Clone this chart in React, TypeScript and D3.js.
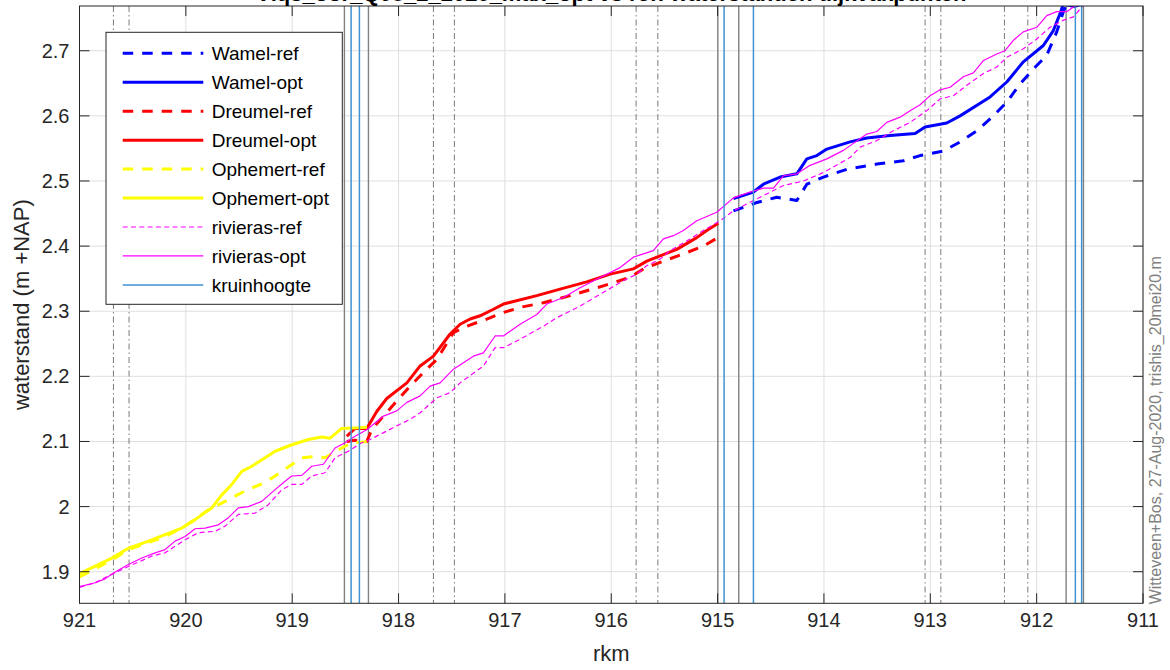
import React from "react";
import * as d3 from "d3";

// ---------- data (rkm, waterstand m +NAP) ----------
const xTicks = [921, 920, 919, 918, 917, 916, 915, 914, 913, 912, 911];
const yTicks = [1.9, 2.0, 2.1, 2.2, 2.3, 2.4, 2.5, 2.6, 2.7];

const wamelRef: [number, number][] = [
  [914.851, 2.454], [914.631, 2.467], [914.443, 2.475], [914.255, 2.470], [914.161, 2.495],
  [914.005, 2.506], [913.785, 2.518], [913.503, 2.526], [913.253, 2.531], [913.096, 2.539],
  [912.877, 2.546], [912.720, 2.560], [912.563, 2.577], [912.407, 2.600], [912.281, 2.621],
  [912.156, 2.649], [912.031, 2.672], [911.905, 2.693], [911.811, 2.729], [911.749, 2.760],
  [911.717, 2.772], [911.592, 2.775], [911.50, 2.79],
];
const wamelOpt: [number, number][] = [
  [914.851, 2.473], [914.663, 2.483], [914.569, 2.495], [914.412, 2.506], [914.255, 2.511],
  [914.161, 2.534], [914.067, 2.539], [913.973, 2.549], [913.754, 2.560], [913.597, 2.566],
  [913.378, 2.570], [913.143, 2.573], [913.049, 2.583], [912.845, 2.589], [912.720, 2.600],
  [912.438, 2.629], [912.281, 2.652], [912.125, 2.683], [911.937, 2.708], [911.843, 2.731],
  [911.780, 2.757], [911.749, 2.772], [911.65, 2.768], [911.56, 2.772], [911.50, 2.79],
];
const dreumelRef: [number, number][] = [
  [918.487, 2.100], [918.409, 2.102], [918.299, 2.100], [918.252, 2.118], [918.142, 2.139],
  [918.017, 2.162], [917.891, 2.185], [917.766, 2.206], [917.640, 2.226], [917.484, 2.267],
  [917.358, 2.277], [917.170, 2.288], [917.014, 2.298], [916.857, 2.306], [916.638, 2.313],
  [916.387, 2.324], [916.074, 2.339], [915.823, 2.352], [915.698, 2.365], [915.541, 2.375],
  [915.290, 2.390], [915.134, 2.400], [914.977, 2.415],
];
const dreumelOpt: [number, number][] = [
  [918.487, 2.108], [918.409, 2.120], [918.299, 2.120], [918.205, 2.146], [918.111, 2.166],
  [917.922, 2.190], [917.797, 2.216], [917.672, 2.231], [917.515, 2.265], [917.421, 2.280],
  [917.327, 2.288], [917.233, 2.293], [917.108, 2.303], [917.014, 2.311], [916.700, 2.324],
  [916.481, 2.334], [916.230, 2.345], [916.011, 2.357], [915.792, 2.365], [915.666, 2.377],
  [915.541, 2.385], [915.384, 2.395], [915.196, 2.413], [915.102, 2.424], [914.993, 2.435],
];
const ophemertRef: [number, number][] = [
  [921.0, 1.892], [920.696, 1.918], [920.540, 1.934], [920.195, 1.954], [920.007, 1.970],
  [919.788, 1.995], [919.631, 2.008], [919.443, 2.024], [919.255, 2.037], [919.098, 2.054],
  [918.910, 2.075], [918.785, 2.077], [918.691, 2.075], [918.534, 2.090], [918.440, 2.098],
  [918.346, 2.099], [918.299, 2.100],
];
const ophemertOpt: [number, number][] = [
  [921.0, 1.897], [920.696, 1.921], [920.540, 1.936], [920.352, 1.947], [920.195, 1.957],
  [920.038, 1.967], [919.913, 1.980], [919.756, 1.998], [919.662, 2.018], [919.568, 2.034],
  [919.474, 2.054], [919.380, 2.062], [919.255, 2.075], [919.161, 2.085], [919.004, 2.095],
  [918.848, 2.103], [918.722, 2.107], [918.644, 2.105], [918.534, 2.120], [918.378, 2.121],
  [918.296, 2.122],
];
const rivierasRef: [number, number][] = [
  [921.0, 1.876], [920.853, 1.883], [920.696, 1.896], [920.540, 1.908], [920.320, 1.924],
  [920.195, 1.929], [920.101, 1.939], [920.007, 1.949], [919.882, 1.960], [919.725, 1.962],
  [919.631, 1.970], [919.506, 1.988], [919.349, 1.990], [919.224, 2.003], [919.098, 2.026],
  [919.004, 2.034], [918.910, 2.034], [918.816, 2.047], [918.691, 2.052], [918.597, 2.075],
  [918.472, 2.085], [918.346, 2.098], [918.268, 2.103], [918.111, 2.116], [918.017, 2.124],
  [917.891, 2.134], [917.797, 2.144], [917.640, 2.167], [917.515, 2.175], [917.421, 2.190],
  [917.202, 2.216], [917.092, 2.244], [917.014, 2.244], [916.857, 2.257], [916.638, 2.277],
  [916.512, 2.290], [916.293, 2.308], [916.074, 2.329], [915.886, 2.347], [915.760, 2.357],
  [915.666, 2.370], [915.541, 2.380], [915.447, 2.393], [915.259, 2.411], [915.134, 2.424],
  [914.977, 2.439], [914.851, 2.454], [914.663, 2.470], [914.381, 2.493], [914.193, 2.500],
  [914.005, 2.513], [913.754, 2.536], [913.660, 2.552], [913.503, 2.562], [913.347, 2.577],
  [913.190, 2.590], [913.033, 2.608], [912.908, 2.626], [912.783, 2.631], [912.657, 2.647],
  [912.501, 2.665], [912.375, 2.675], [912.281, 2.690], [912.125, 2.703], [911.999, 2.718],
  [911.874, 2.736], [911.749, 2.747], [911.655, 2.752], [911.560, 2.770], [911.45, 2.78],
];
const rivierasOpt: [number, number][] = [
  [921.0, 1.877], [920.853, 1.883], [920.759, 1.889], [920.681, 1.898], [920.540, 1.911],
  [920.414, 1.921], [920.289, 1.929], [920.195, 1.934], [920.101, 1.947], [920.007, 1.954],
  [919.913, 1.966], [919.819, 1.967], [919.694, 1.972], [919.600, 1.983], [919.506, 1.998],
  [919.412, 2.000], [919.286, 2.008], [919.161, 2.026], [919.067, 2.039], [919.004, 2.047],
  [918.910, 2.048], [918.816, 2.062], [918.707, 2.065], [918.597, 2.090], [918.503, 2.098],
  [918.409, 2.108], [918.299, 2.118], [918.142, 2.139], [918.017, 2.147], [917.922, 2.160],
  [917.797, 2.170], [917.703, 2.185], [917.609, 2.190], [917.484, 2.211], [917.296, 2.231],
  [917.202, 2.236], [917.092, 2.262], [917.014, 2.262], [916.857, 2.280], [916.700, 2.295],
  [916.606, 2.311], [916.450, 2.321], [916.293, 2.336], [916.136, 2.349], [915.917, 2.367],
  [915.792, 2.383], [915.698, 2.388], [915.604, 2.393], [915.510, 2.411], [915.416, 2.416],
  [915.322, 2.424], [915.196, 2.439], [915.008, 2.452], [914.851, 2.474], [914.694, 2.483],
  [914.569, 2.489], [914.475, 2.489], [914.381, 2.508], [914.255, 2.511], [914.130, 2.524],
  [913.973, 2.534], [913.817, 2.547], [913.597, 2.572], [913.503, 2.576], [913.409, 2.590],
  [913.284, 2.598], [913.190, 2.608], [913.096, 2.617], [913.002, 2.631], [912.908, 2.640],
  [912.814, 2.644], [912.689, 2.660], [912.595, 2.666], [912.501, 2.685], [912.375, 2.695],
  [912.297, 2.700], [912.219, 2.716], [912.125, 2.729], [911.999, 2.736], [911.905, 2.754],
  [911.811, 2.760], [911.717, 2.760], [911.655, 2.767], [911.592, 2.772], [911.497, 2.78],
];
const kruinhoogte = [918.446, 918.368, 914.939, 914.663, 911.636, 911.577];
const vakgrensSolid = [918.509, 918.283, 914.998, 914.801, 911.723, 911.560];
const vakgrensDashDot = [920.681, 920.534, 917.672, 917.475, 915.766, 915.562, 913.049, 912.901, 912.303, 912.083];

const legendLabels = [
  "Wamel-ref", "Wamel-opt", "Dreumel-ref", "Dreumel-opt", "Ophemert-ref",
  "Ophemert-opt", "rivieras-ref", "rivieras-opt", "kruinhoogte",
];

const titleText = "Vlqs_oor_Q08_2_2020_max_opt vs ref: waterstanden dijkvakpunten";
const footnote = "Witteveen+Bos, 27-Aug-2020, trishis_20mei20.m";

// ---------- styles ----------
const THICK_DASH = "10.5,9";
const THIN_DASH = "5,3.3";
const seriesList = [
  { data: wamelRef, color: "#0000ff", width: 3, dash: THICK_DASH },
  { data: wamelOpt, color: "#0000ff", width: 3, dash: null },
  { data: dreumelRef, color: "#ff0000", width: 3, dash: THICK_DASH },
  { data: dreumelOpt, color: "#ff0000", width: 3, dash: null },
  { data: ophemertRef, color: "#ffff00", width: 3, dash: THICK_DASH },
  { data: ophemertOpt, color: "#ffff00", width: 3, dash: null },
  { data: rivierasRef, color: "#ff00ff", width: 1.2, dash: THIN_DASH },
  { data: rivierasOpt, color: "#ff00ff", width: 1.2, dash: null },
];
const KRUIN_COLOR = "#3f93d2";

export default function App() {
  const W = 1170, H = 670;
  const L = 79.5, R = 1143, T = 6, B = 603.3;
  const x = d3.scaleLinear().domain([921, 911]).range([L, R]);
  const y = d3.scaleLinear().domain([1.8515, 2.7687]).range([B, T]);
  const line = d3.line<[number, number]>().x((d) => x(d[0])).y((d) => y(d[1]));
  const axisColor = "#262626";
  const gridColor = "#dfdfdf";
  const font = "'Liberation Sans', Arial, Helvetica, sans-serif";
  const tickLen = 10;
  const fmt = (v: number) => String(+v.toFixed(1));

  const legX = 106, legY = 32.3, legW = 236.3, legH = 272;
  const rowY0 = 53.3, rowDY = 28.95;

  return (
    <div style={{ position: "fixed", left: 0, top: 0, width: W, height: H, background: "#fff" }}>
      <svg width={W} height={H} style={{ display: "block" }} fontFamily={font}>
        <defs>
          <clipPath id="plotclip">
            <rect x={L} y={T} width={R - L} height={B - T} />
          </clipPath>
        </defs>
        <rect x={0} y={0} width={W} height={H} fill="#fff" />
        <rect x={L} y={T} width={R - L} height={B - T} fill="#fff" />
        {/* grid */}
        {xTicks.map((t) => (
          <line key={"gx" + t} x1={x(t)} x2={x(t)} y1={T} y2={B} stroke={gridColor} strokeWidth={1} />
        ))}
        {yTicks.map((t) => (
          <line key={"gy" + t} x1={L} x2={R} y1={y(t)} y2={y(t)} stroke={gridColor} strokeWidth={1} />
        ))}
        <g clipPath="url(#plotclip)">
          {vakgrensDashDot.map((v, i) => (
            <line key={"dd" + i} x1={x(v)} x2={x(v)} y1={T} y2={B} stroke="#7a7a7a" strokeWidth={1}
              strokeDasharray="6,3,1.5,3" />
          ))}
          {vakgrensSolid.map((v, i) => (
            <line key={"vs" + i} x1={x(v)} x2={x(v)} y1={T} y2={B} stroke="#808080" strokeWidth={1.4} />
          ))}
          {seriesList.map((s, i) => (
            <path key={"s" + i} d={line(s.data) || ""} fill="none" stroke={s.color} strokeWidth={s.width}
              strokeDasharray={s.dash || undefined} strokeLinejoin="round" />
          ))}
          {kruinhoogte.map((v, i) => (
            <line key={"k" + i} x1={x(v)} x2={x(v)} y1={T} y2={B} stroke={KRUIN_COLOR} strokeWidth={1.5} />
          ))}
        </g>
        {/* axes box */}
        <rect x={L} y={T} width={R - L} height={B - T} fill="none" stroke={axisColor} strokeWidth={1} />
        {xTicks.map((t) => (
          <g key={"tx" + t}>
            <line x1={x(t)} x2={x(t)} y1={B} y2={B - tickLen} stroke={axisColor} strokeWidth={1} />
            <line x1={x(t)} x2={x(t)} y1={T} y2={T + tickLen} stroke={axisColor} strokeWidth={1} />
            <text x={x(t)} y={B + 24} textAnchor="middle" fontSize={20} fill={axisColor}>{t}</text>
          </g>
        ))}
        {yTicks.map((t) => (
          <g key={"ty" + t}>
            <line x1={L} x2={L + tickLen} y1={y(t)} y2={y(t)} stroke={axisColor} strokeWidth={1} />
            <line x1={R} x2={R - tickLen} y1={y(t)} y2={y(t)} stroke={axisColor} strokeWidth={1} />
            <text x={L - 10} y={y(t) + 7} textAnchor="end" fontSize={20} fill={axisColor}>{fmt(t)}</text>
          </g>
        ))}
        {/* labels */}
        <text x={(L + R) / 2} y={661} textAnchor="middle" fontSize={22} fill={axisColor}>rkm</text>
        <text transform={`translate(29,${(T + B) / 2}) rotate(-90)`} textAnchor="middle" fontSize={22} fill={axisColor}>
          waterstand (m +NAP)
        </text>
        <text x={(L + R) / 2} y={0.5} textAnchor="middle" fontSize={22} fontWeight="bold" fill="#000">{titleText}</text>
        <text transform={`translate(1161,${B + 1}) rotate(-90)`} textAnchor="start" fontSize={16} fill="#808080">
          {footnote}
        </text>
        {/* legend */}
        <rect x={legX} y={legY} width={legW} height={legH} fill="#fff" stroke={axisColor} strokeWidth={1} />
        {legendLabels.map((lab, i) => {
          const ry = rowY0 + i * rowDY;
          const s = i < seriesList.length ? seriesList[i] : { color: KRUIN_COLOR, width: 1.5, dash: null };
          return (
            <g key={"lg" + i}>
              <line x1={122.7} x2={203.3} y1={ry} y2={ry} stroke={s.color} strokeWidth={s.width}
                strokeDasharray={s.dash || undefined} />
              <text x={211.7} y={ry + 6.8} fontSize={19} fill="#000">{lab}</text>
            </g>
          );
        })}
      </svg>
    </div>
  );
}
